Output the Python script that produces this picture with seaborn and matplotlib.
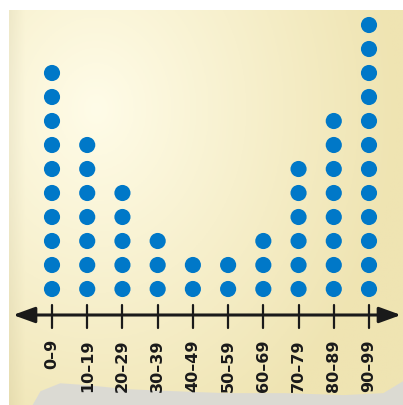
import numpy as np
import pandas as pd
import matplotlib
matplotlib.use("Agg")
import matplotlib.pyplot as plt
import seaborn as sns
from matplotlib.patches import Polygon

categories = ["0–9", "10–19", "20–29", "30–39", "40–49",
              "50–59", "60–69", "70–79", "80–89", "90–99"]
counts = [10, 7, 5, 3, 2, 2, 3, 6, 8, 12]

rows = []
for i, (c, n) in enumerate(zip(categories, counts)):
    for k in range(1, n + 1):
        rows.append({"pos": i, "level": k, "category": c})
df = pd.DataFrame(rows)

sns.set_theme(style="white")
W, H = 403, 405
fig = plt.figure(figsize=(W / 100, H / 100), dpi=100)
fig.patch.set_facecolor("white")

# background paper with gradient
bg = fig.add_axes([9 / W, 0, 1 - 9 / W, 1 - 10 / H])
bg.set_axis_off()
ny, nx = 200, 200
yy, xx = np.mgrid[0:1:ny * 1j, 0:1:nx * 1j]
cx, cy = 0.22, 0.25
r = np.sqrt(((xx - cx) / 0.9) ** 2 + ((yy - cy) / 1.1) ** 2)
t = np.clip(r / 0.85, 0, 1)
light = np.array([255, 252, 232]) / 255
dark = np.array([239, 228, 178]) / 255
img = light[None, None, :] * (1 - t[..., None]) + dark[None, None, :] * t[..., None]
edge = np.clip(1 - xx / 0.04, 0, 1)[..., None] * 0.04
img = np.clip(img - edge, 0, 1)
bg.imshow(img, extent=[0, 1, 0, 1], aspect="auto", origin="upper")
bg.set_xlim(0, 1)
bg.set_ylim(0, 1)
poly = Polygon([[0.06, 0.0], [0.08, 0.035], [0.13, 0.055], [0.2, 0.05], [0.3, 0.04],
                [0.42, 0.035], [0.55, 0.03], [0.7, 0.03], [0.85, 0.025], [0.95, 0.03],
                [1.0, 0.06], [1.0, 0.0]], closed=True, facecolor="#d9d9d6",
               edgecolor="none", alpha=0.9)
bg.add_patch(poly)

ax = fig.add_axes([0, 0, 1, 1])
ax.patch.set_alpha(0)
ppx = (369 - 52) / 9
ax.set_xlim(-52 / ppx, 9 + (W - 369) / ppx)
ax.set_ylim(1 - (H - 289) / 24, 1 + 289 / 24)

sns.scatterplot(data=df, x="pos", y="level", ax=ax, color="#0078c8",
                s=135, edgecolor="none", legend=False, zorder=3)

axis_y = 1 - (315 - 289) / 24
x_left = (13 - 52) / ppx
x_right = (401 - 52) / ppx
ax.annotate("", xy=(x_right, axis_y), xytext=(x_left, axis_y),
            arrowprops=dict(arrowstyle="<|-|>,head_length=1.1,head_width=0.4",
                            color="#1a1a1a", lw=2.2, shrinkA=0, shrinkB=0),
            zorder=2)
tick_top = 1 - (305 - 289) / 24
tick_bot = 1 - (328 - 289) / 24
for i in range(len(categories)):
    ax.plot([i, i], [tick_bot, tick_top], color="#1a1a1a", lw=1.6, zorder=2)
    ax.text(i, 1 - (339 - 289) / 24, categories[i], rotation=90, ha="center",
            va="top", fontsize=11.5, fontweight="bold", color="#1a1a1a",
            family="DejaVu Sans")

ax.set_axis_off()
fig.savefig("out.png", dpi=100)
